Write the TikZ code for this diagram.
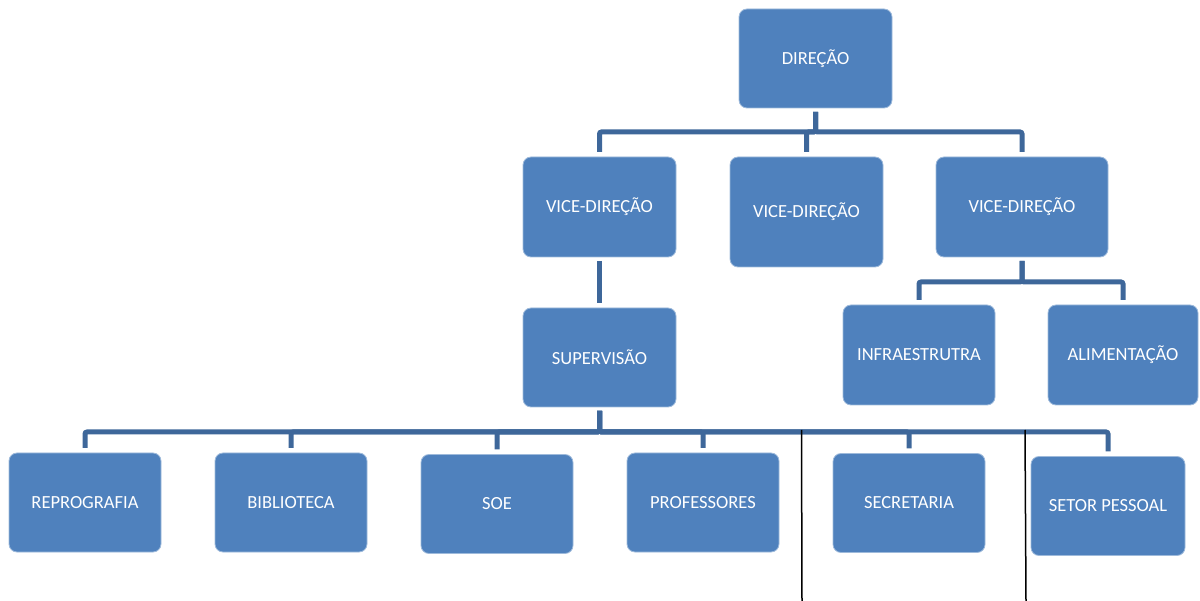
\documentclass[tikz,border=0pt]{standalone}
\usepackage{fontspec}
\setmainfont{Carlito}
\usepackage{xcolor}
\usepackage{tikz}
\usetikzlibrary{positioning}
\definecolor{boxblue}{RGB}{79,129,189}
\definecolor{connblue}{RGB}{62,103,154}
\tikzset{
  orgbox/.style = {rectangle, rounded corners=8pt, fill=boxblue, draw=boxblue!55!white, line width=0.8pt,
                   text=white, align=center, font=\fontsize{18.5}{21}\selectfont,
                   minimum width=152pt, minimum height=99pt, inner sep=0pt, outer sep=0pt},
  conn/.style   = {draw=connblue, line width=5pt, rounded corners=2pt, shorten <=4pt, shorten >=5pt},
  mark line/.style = {draw=black, line width=1.5pt},
}

\begin{document}
\begin{tikzpicture}[x=1pt, y=-1pt]
  \useasboundingbox (0,0) rectangle (1200,601);
  % top levels
  \node[orgbox, minimum width=153pt] (dir) at (815.5,58.5) {DIREÇÃO};
  \node[orgbox, minimum width=153pt, minimum height=100pt] (vd1) at (599.5,207) {VICE-DIREÇÃO};
  \node[orgbox, minimum width=153pt, minimum height=110pt] (vd2) at (806.5,212) {VICE-DIREÇÃO};
  \node[orgbox, minimum width=172pt, minimum height=100pt] (vd3) at (1022,207) {VICE-DIREÇÃO};
  \node[orgbox, minimum width=153pt] (sup) at (599.5,357.5) {SUPERVISÃO};
  \node[orgbox, minimum height=100pt] (infra) at (919,355) {INFRAESTRUTRA};
  \node[orgbox, minimum width=150pt, minimum height=100pt] (alim) at (1123,355) {ALIMENTAÇÃO};
  % bottom row
  \node[orgbox] (repro) at (85,502.5) {REPROGRAFIA};
  \node[orgbox, right=54pt of repro] (bib) {BIBLIOTECA};
  \node[orgbox, right=54pt of bib, yshift=-1.5pt] (soe) {SOE};
  \node[orgbox, right=54pt of bib, xshift=206pt] (prof) {PROFESSORES};
  \node[orgbox, right=54pt of prof, yshift=-0.5pt] (sec) {SECRETARIA};
  \node[orgbox, minimum width=154pt, right=46pt of sec, yshift=-3pt] (setor) {SETOR PESSOAL};
  % connectors
  \foreach \n in {vd1,vd2,vd3}
    \draw[conn] (dir.south) -- ++(0,24) -| (\n.north);
  \draw[conn] (vd1.south) -- (sup.north);
  \foreach \n in {infra,alim}
    \draw[conn] (vd3.south) -- ++(0,25) -| (\n.north);
  \foreach \n in {repro,bib,soe,prof,sec,setor}
    \draw[conn] (sup.south) -- ++(0,25) -| (\n.north);
  % loose lines
  \coordinate (ltop) at (801.5,430);
  \coordinate (lbot) at (802,601);
  \coordinate (rtop) at (1025,430);
  \coordinate (rbot) at (1026,601);
  \draw[mark line] (ltop) -- (lbot);
  \draw[mark line] (rtop) -- (rbot);
\end{tikzpicture}
\end{document}
